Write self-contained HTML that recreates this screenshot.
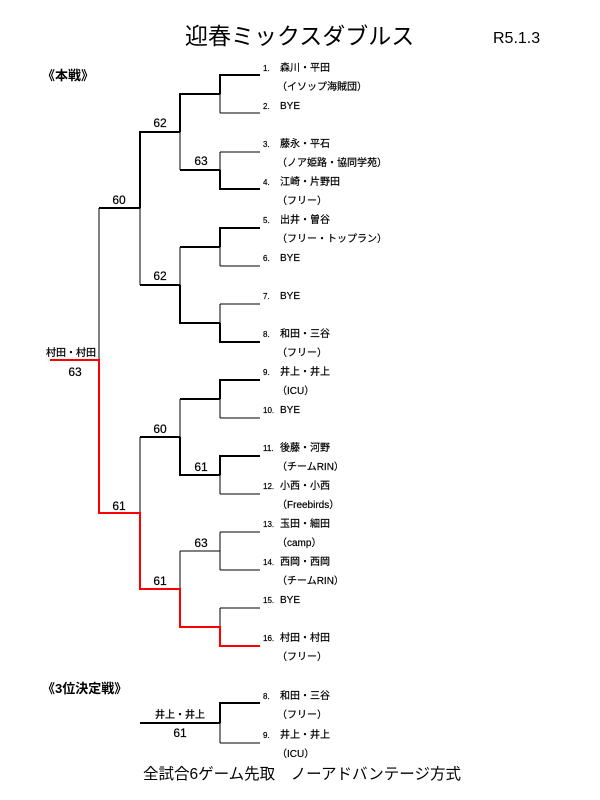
<!DOCTYPE html>
<html><head><meta charset="utf-8"><style>
html,body{margin:0;padding:0;background:#fff;}
svg{display:block;font-family:"Liberation Sans","Noto Sans CJK JP",sans-serif;}
</style></head><body>
<svg width="600" height="800" viewBox="0 0 600 800" xmlns="http://www.w3.org/2000/svg">
<text x="185" y="44" font-size="23" fill="#000">迎春ミックスダブルス</text>
<text x="493" y="43" font-size="16" fill="#000">R5.1.3</text>
<text x="42" y="80" font-size="13" font-weight="bold" fill="#000">《本戦》</text>
<text x="42" y="693" font-size="13" font-weight="bold" fill="#000">《3位決定戦》</text>

<g stroke="#000" fill="none">
<g stroke-width="1">
<line x1="220" y1="113" x2="260" y2="113"/>
<line x1="220" y1="152" x2="260" y2="152"/>
<line x1="220" y1="266" x2="260" y2="266"/>
<line x1="220" y1="304" x2="260" y2="304"/>
<line x1="220" y1="418" x2="260" y2="418"/>
<line x1="220" y1="494" x2="260" y2="494"/>
<line x1="220" y1="532" x2="260" y2="532"/>
<line x1="220" y1="570" x2="260" y2="570"/>
<line x1="220" y1="608" x2="260" y2="608"/>
<line x1="220" y1="94" x2="220" y2="113"/>
<line x1="220" y1="152" x2="220" y2="170"/>
<line x1="220" y1="247" x2="220" y2="266"/>
<line x1="220" y1="304" x2="220" y2="323"/>
<line x1="220" y1="399" x2="220" y2="418"/>
<line x1="220" y1="475" x2="220" y2="494"/>
<line x1="220" y1="532" x2="220" y2="551"/>
<line x1="220" y1="551" x2="220" y2="570"/>
<line x1="220" y1="608" x2="220" y2="627"/>
<line x1="180" y1="132" x2="180" y2="170"/>
<line x1="180" y1="247" x2="180" y2="285"/>
<line x1="180" y1="399" x2="180" y2="437"/>
<line x1="180" y1="551" x2="180" y2="589"/>
<line x1="140" y1="208" x2="140" y2="285"/>
<line x1="140" y1="437" x2="140" y2="513"/>
<line x1="99" y1="208" x2="99" y2="360"/>
<line x1="180" y1="551" x2="220" y2="551"/>
<line x1="220" y1="743" x2="260" y2="743"/>
<line x1="220" y1="723" x2="220" y2="743"/>
</g>
<g stroke-width="2">
<line x1="220" y1="75" x2="260" y2="75"/>
<line x1="220" y1="189" x2="260" y2="189"/>
<line x1="220" y1="228" x2="260" y2="228"/>
<line x1="220" y1="342" x2="260" y2="342"/>
<line x1="220" y1="380" x2="260" y2="380"/>
<line x1="220" y1="456" x2="260" y2="456"/>
<line x1="220" y1="74" x2="220" y2="94"/>
<line x1="220" y1="170" x2="220" y2="190"/>
<line x1="220" y1="227" x2="220" y2="247"/>
<line x1="220" y1="323" x2="220" y2="343"/>
<line x1="220" y1="379" x2="220" y2="399"/>
<line x1="220" y1="455" x2="220" y2="475"/>
<line x1="180" y1="94" x2="220" y2="94"/>
<line x1="180" y1="170" x2="220" y2="170"/>
<line x1="180" y1="247" x2="220" y2="247"/>
<line x1="180" y1="323" x2="220" y2="323"/>
<line x1="180" y1="399" x2="220" y2="399"/>
<line x1="180" y1="475" x2="220" y2="475"/>
<line x1="180" y1="93" x2="180" y2="132"/>
<line x1="180" y1="285" x2="180" y2="324"/>
<line x1="180" y1="437" x2="180" y2="476"/>
<line x1="140" y1="132" x2="180" y2="132"/>
<line x1="140" y1="285" x2="180" y2="285"/>
<line x1="140" y1="437" x2="180" y2="437"/>
<line x1="140" y1="131" x2="140" y2="208"/>
<line x1="99" y1="208" x2="140" y2="208"/>
<line x1="220" y1="703" x2="260" y2="703"/>
<line x1="220" y1="702" x2="220" y2="723"/>
<line x1="140" y1="723" x2="220" y2="723"/>
</g>
<polyline stroke="#f00" stroke-width="2" points="260,646 220,646 220,627 180,627 180,589 140,589 140,513 99,513 99,360 50,360"/>
</g>

<g font-size="12" fill="#000" text-anchor="middle" stroke="#000" stroke-width="0.2">
<text x="160" y="127">62</text>
<text x="201" y="165">63</text>
<text x="119" y="204">60</text>
<text x="160" y="280">62</text>
<text x="160" y="433">60</text>
<text x="201" y="471">61</text>
<text x="119" y="510">61</text>
<text x="201" y="547">63</text>
<text x="160" y="585">61</text>
<text x="75" y="376">63</text>
<text x="180" y="737">61</text>
</g>
<g font-size="10" fill="#000" text-anchor="middle" stroke="#000" stroke-width="0.25">
<text x="71" y="356">村田・村田</text>
<text x="180" y="718">井上・井上</text>
</g>

<g font-size="10" fill="#000" stroke="#000" stroke-width="0.2">
<text x="263" y="71" font-size="8">1.</text><text x="280" y="71">森川・平田</text>
<text x="277" y="90">（イソップ海賊団）</text>
<text x="263" y="109" font-size="8">2.</text><text x="280" y="109">BYE</text>
<text x="263" y="147" font-size="8">3.</text><text x="280" y="147">藤永・平石</text>
<text x="277" y="166">（ノア姫路・協同学苑）</text>
<text x="263" y="185" font-size="8">4.</text><text x="280" y="185">江崎・片野田</text>
<text x="277" y="204">（フリー）</text>
<text x="263" y="223" font-size="8">5.</text><text x="280" y="223">出井・曽谷</text>
<text x="277" y="242">（フリー・トップラン）</text>
<text x="263" y="261" font-size="8">6.</text><text x="280" y="261">BYE</text>
<text x="263" y="299" font-size="8">7.</text><text x="280" y="299">BYE</text>
<text x="263" y="337" font-size="8">8.</text><text x="280" y="337">和田・三谷</text>
<text x="277" y="356">（フリー）</text>
<text x="263" y="375" font-size="8">9.</text><text x="280" y="375">井上・井上</text>
<text x="277" y="394">（ICU）</text>
<text x="263" y="413" font-size="8">10.</text><text x="280" y="413">BYE</text>
<text x="263" y="451" font-size="8">11.</text><text x="280" y="451">後藤・河野</text>
<text x="277" y="470">（チームRIN）</text>
<text x="263" y="489" font-size="8">12.</text><text x="280" y="489">小西・小西</text>
<text x="277" y="508">（Freebirds）</text>
<text x="263" y="527" font-size="8">13.</text><text x="280" y="527">玉田・細田</text>
<text x="277" y="546">（camp）</text>
<text x="263" y="565" font-size="8">14.</text><text x="280" y="565">西岡・西岡</text>
<text x="277" y="584">（チームRIN）</text>
<text x="263" y="603" font-size="8">15.</text><text x="280" y="603">BYE</text>
<text x="263" y="641" font-size="8">16.</text><text x="280" y="641">村田・村田</text>
<text x="277" y="660">（フリー）</text>
<text x="263" y="699" font-size="8">8.</text><text x="280" y="699">和田・三谷</text>
<text x="277" y="718">（フリー）</text>
<text x="263" y="738" font-size="8">9.</text><text x="280" y="738">井上・井上</text>
<text x="277" y="757">（ICU）</text>
</g>
<text x="302" y="779" font-size="15.5" text-anchor="middle" fill="#000">全試合6ゲーム先取　ノーアドバンテージ方式</text>
</svg>
</body></html>
